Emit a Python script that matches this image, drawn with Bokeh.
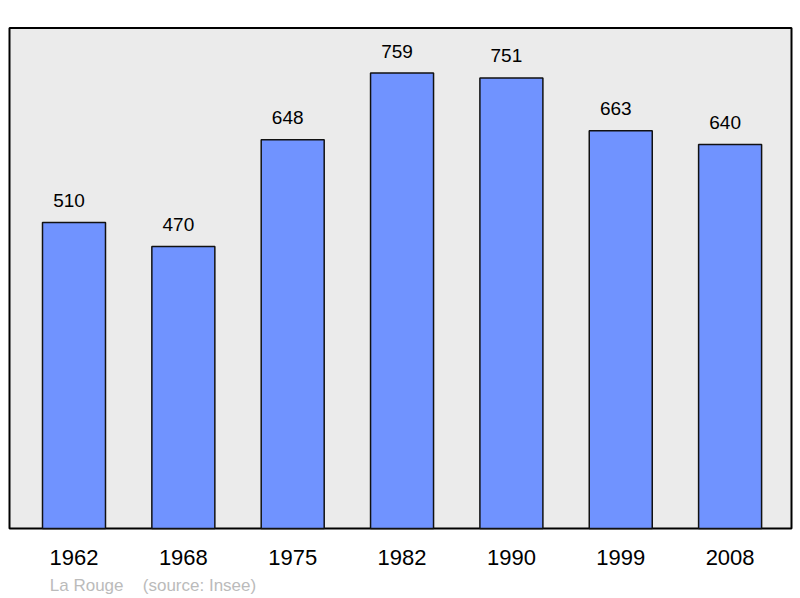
from bokeh.core.properties import value
from bokeh.embed import file_html
from bokeh.models import ColumnDataSource, Range1d
from bokeh.plotting import figure
from bokeh.resources import INLINE

# data
years = ["1962", "1968", "1975", "1982", "1990", "1999", "2008"]
population = [510, 470, 648, 759, 751, 663, 640]
author = "La Rouge"
source_note = "(source: Insee)"

FONT = value("Liberation Sans")
BAR_COLOR = "#7093ff"
PANEL_COLOR = "#ebebeb"

# layout in canvas pixels (from the top-left of the figure)
W, H = 800, 598
X0_PX = 73.5      # centre of the first bar
STEP_PX = 109.35  # distance between bar centres
BASE_PX = 528     # where the value 0 sits
PX_PER_UNIT = 0.6


def px_x(px):
    return (px - X0_PX) / STEP_PX


def px_y(py):
    return (BASE_PX - py) / PX_PER_UNIT


p = figure(
    width=W,
    height=H,
    output_backend="svg",
    toolbar_location=None,
    x_range=Range1d(px_x(0), px_x(W)),
    y_range=Range1d(px_y(H), px_y(0)),
    min_border=0,
)
p.axis.visible = False
p.grid.visible = False
p.outline_line_color = None
p.background_fill_color = "white"

# grey panel
p.quad(
    left=[px_x(9)], right=[px_x(791)], top=[px_y(27.5)], bottom=[px_y(BASE_PX)],
    fill_color=PANEL_COLOR, line_color="black", line_width=2,
)

idx = list(range(len(years)))
src = ColumnDataSource(dict(
    x=idx,
    pop=population,
    label=[str(v) for v in population],
    year=years,
    year_y=[px_y(556.5)] * len(years),
))

p.vbar(x="x", top="pop", bottom=0, width=63 / STEP_PX, source=src,
       fill_color=BAR_COLOR, line_color="#111111", line_width=1.5)

# value labels sit a little above the bar tops, nudged left like the original
p.text(x="x", y="pop", text="label", source=src,
       text_font=FONT, text_font_size="19px", text_color="black",
       text_align="center", text_baseline="middle",
       x_offset=-5, y_offset=-22)

p.text(x="x", y="year_y", text="year", source=src,
       text_font=FONT, text_font_size="22px", text_color="black",
       text_align="center", text_baseline="middle")

p.text(x=[px_x(49.3), px_x(142.3)], y=[px_y(584.5)] * 2, text=[author, source_note],
       text_font=FONT, text_font_size="17px", text_color="#bbbbbb",
       text_align="left", text_baseline="middle")

open("out.html", "w").write(file_html(p, INLINE))
